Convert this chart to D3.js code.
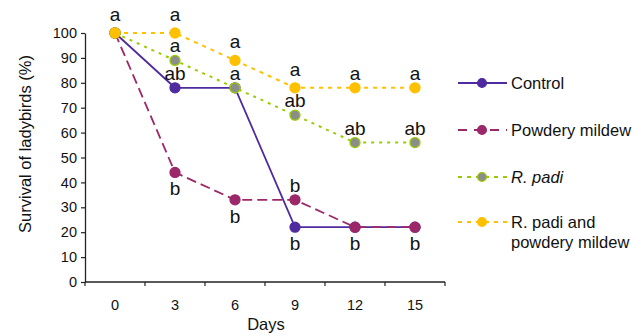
<!DOCTYPE html>
<html>
<head>
<meta charset="utf-8">
<script src="https://cdn.jsdelivr.net/npm/d3@7"></script>
<style>
  html, body { margin: 0; padding: 0; background: #fff; }
  svg { display: block; font-family: "Liberation Sans", Arial, sans-serif; }
</style>
</head>
<body>
<svg id="chart" width="644" height="336"></svg>
<script>
// ---- data ----
const days = ["0", "3", "6", "9", "12", "15"];
const yTicks = [0, 10, 20, 30, 40, 50, 60, 70, 80, 90, 100];
const control = [100, 78, 78, 22, 22, 22];
const powderyMildew = [100, 44, 33, 33, 22, 22];
const rPadi = [100, 89, 78, 67, 56, 56];
const rPadiMildew = [100, 100, 89, 78, 78, 78];
const seriesNames = ["Control", "Powdery mildew", "R. padi", "R. padi and powdery mildew"];
// significance letters: day, anchor value, letter, side of the point
const letters = [
  ["0", 100, "a", "top"],
  ["3", 100, "a", "top"], ["3", 89, "a", "above"], ["3", 78, "ab", "above"], ["3", 44, "b", "below"],
  ["6", 89, "a", "top"], ["6", 78, "a", "above"], ["6", 33, "b", "below"],
  ["9", 78, "a", "top"], ["9", 67, "ab", "above"], ["9", 33, "b", "above"], ["9", 22, "b", "below"],
  ["12", 78, "a", "above"], ["12", 56, "ab", "above"], ["12", 22, "b", "below"],
  ["15", 78, "a", "above"], ["15", 56, "ab", "above"], ["15", 22, "b", "below"]
];

// ---- styles ----
const styles = [
  { values: control, color: "#4f2b9f", dash: null, fill: "#4f2b9f", stroke: "#4f2b9f", width: 1.8 },
  { values: powderyMildew, color: "#9b2868", dash: "10,5", fill: "#9b2868", stroke: "#9b2868", width: 1.8 },
  { values: rPadi, color: "#99cc00", dash: "3,5", fill: "#8c8c8c", stroke: "#99cc00", width: 2 },
  { values: rPadiMildew, color: "#ffc000", dash: "4,5", fill: "#ffc000", stroke: "#ffc000", width: 2 }
];

const svg = d3.select("#chart");
const x = d3.scaleBand().domain(days).range([85, 445]).padding(0);
const y = d3.scaleLinear().domain([0, 100]).range([282, 33]);
const cx = d => x(d) + x.bandwidth() / 2;

// Y axis
const yAxis = svg.append("g").attr("transform", "translate(85,0)")
  .call(d3.axisLeft(y).tickValues(yTicks).tickSize(4).tickPadding(4).tickSizeOuter(0));
yAxis.select(".domain").attr("stroke", "#222").attr("stroke-width", 1.3);
yAxis.selectAll(".tick line").attr("stroke", "#222").attr("stroke-width", 1.2);
yAxis.selectAll(".tick text").attr("font-size", 14.5).attr("fill", "#111")
  .attr("font-family", "Liberation Sans, Arial, sans-serif");

// X axis: ticks at band boundaries, labels at band centres
const xAxisG = svg.append("g").attr("transform", "translate(0,282)");
xAxisG.append("line").attr("x1", x.range()[0]).attr("x2", x.range()[1])
  .attr("stroke", "#222").attr("stroke-width", 1.3);
const boundaries = days.map(d => x(d)).concat([x.range()[1]]);
xAxisG.selectAll("line.tk").data(boundaries).join("line").attr("class", "tk")
  .attr("x1", d => d).attr("x2", d => d).attr("y1", 0).attr("y2", 4)
  .attr("stroke", "#222").attr("stroke-width", 1.2);
xAxisG.selectAll("text").data(days).join("text")
  .attr("x", d => cx(d)).attr("y", 28).attr("text-anchor", "middle")
  .attr("font-size", 14.5).attr("fill", "#111").text(d => d);

// axis titles
svg.append("text").attr("transform", "translate(31,144) rotate(-90)")
  .attr("text-anchor", "middle").attr("font-size", 16.5).attr("fill", "#111")
  .text("Survival of ladybirds (%)");
svg.append("text").attr("x", 266).attr("y", 330).attr("text-anchor", "middle")
  .attr("font-size", 16.5).attr("fill", "#111").text("Days");

// series
const line = d3.line().x((v, i) => cx(days[i])).y(v => y(v));
styles.forEach(s => {
  const g = svg.append("g");
  g.append("path").attr("d", line(s.values)).attr("fill", "none")
    .attr("stroke", s.color).attr("stroke-width", s.width)
    .attr("stroke-dasharray", s.dash);
  g.selectAll("circle").data(s.values).join("circle")
    .attr("cx", (v, i) => cx(days[i])).attr("cy", v => y(v)).attr("r", 5)
    .attr("fill", s.fill).attr("stroke", s.stroke).attr("stroke-width", 1.3);
});

// letters
const offs = { top: -12, above: -8, below: 23 };
svg.append("g").selectAll("text").data(letters).join("text")
  .attr("x", d => cx(d[0])).attr("y", d => y(d[1]) + offs[d[3]])
  .attr("text-anchor", "middle").attr("font-size", 19).attr("fill", "#111")
  .text(d => d[2]);

// legend
const legendY = [83, 130, 177, 222];
const lg = svg.append("g");
styles.forEach((s, i) => {
  const ly = legendY[i];
  lg.append("line").attr("x1", 458).attr("x2", 507).attr("y1", ly).attr("y2", ly)
    .attr("stroke", s.color).attr("stroke-width", s.width)
    .attr("stroke-dasharray", s.dash ? (i === 1 ? "9,7" : "4,5") : null);
  lg.append("circle").attr("cx", 482).attr("cy", ly).attr("r", 4.4)
    .attr("fill", s.fill).attr("stroke", s.stroke).attr("stroke-width", 1.3);
  const t = lg.append("text").attr("x", 511).attr("y", ly + 6)
    .attr("font-size", 16.5).attr("fill", "#111");
  if (i === 2) {
    t.attr("font-style", "italic").text(seriesNames[i]);
  } else if (i === 3) {
    const words = seriesNames[i].split(" ");
    t.append("tspan").attr("x", 511).text(words.slice(0, 3).join(" "));
    t.append("tspan").attr("x", 511).attr("dy", 20).text(words.slice(3).join(" "));
  } else {
    t.text(seriesNames[i]);
  }
});
</script>
</body>
</html>
